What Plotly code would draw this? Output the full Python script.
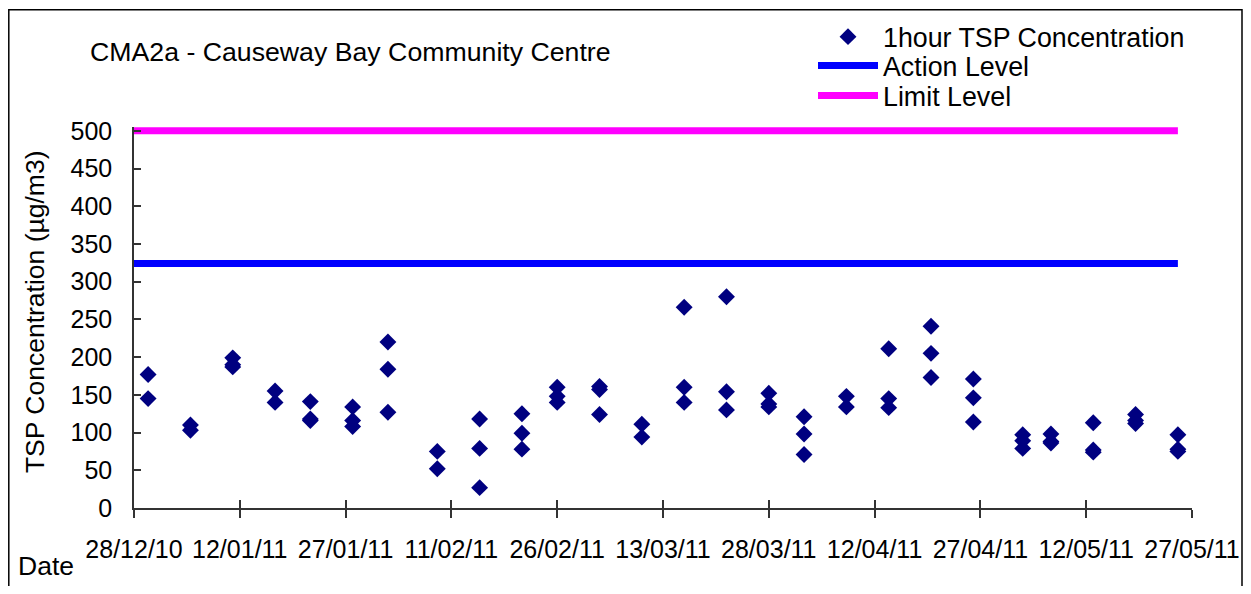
import plotly.graph_objects as go

# ---- data ----
sample_dates = (
    ["2010-12-30"] * 2 + ["2011-01-05"] * 2 + ["2011-01-11"] * 3 + ["2011-01-17"] * 2 +
    ["2011-01-22"] * 3 + ["2011-01-28"] * 3 + ["2011-02-02"] * 3 + ["2011-02-09"] * 2 +
    ["2011-02-15"] * 3 + ["2011-02-21"] * 3 + ["2011-02-26"] * 3 + ["2011-03-04"] * 3 +
    ["2011-03-10"] * 2 + ["2011-03-16"] * 3 + ["2011-03-22"] * 3 + ["2011-03-28"] * 3 +
    ["2011-04-02"] * 3 + ["2011-04-08"] * 2 + ["2011-04-14"] * 3 + ["2011-04-20"] * 3 +
    ["2011-04-26"] * 3 + ["2011-05-03"] * 3 + ["2011-05-07"] * 3 + ["2011-05-13"] * 3 +
    ["2011-05-19"] * 3 + ["2011-05-25"] * 3
)
tsp_values = [
    177, 145,
    110, 103,
    199, 190, 187,
    155, 140,
    141, 118, 116,
    134, 116, 108,
    220, 184, 127,
    75, 52,
    118, 79, 27,
    125, 99, 78,
    160, 148, 140,
    161, 157, 124,
    111, 94,
    266, 160, 140,
    280, 154, 130,
    152, 138, 134,
    121, 98, 71,
    148, 134,
    211, 145, 133,
    241, 205, 173,
    171, 146, 114,
    97, 89, 79,
    98, 88, 86,
    113, 77, 74,
    124, 116, 112,
    97, 78, 75,
]
level_dates = ["2010-12-28", "2011-05-25"]
action_level = [324, 324]
limit_level = [500, 500]

tick_dates = ["2010-12-28", "2011-01-12", "2011-01-27", "2011-02-11", "2011-02-26",
              "2011-03-13", "2011-03-28", "2011-04-12", "2011-04-27", "2011-05-12",
              "2011-05-27"]
tick_labels = ["28/12/10", "12/01/11", "27/01/11", "11/02/11", "26/02/11",
               "13/03/11", "28/03/11", "12/04/11", "27/04/11", "12/05/11",
               "27/05/11"]
y_ticks = [0, 50, 100, 150, 200, 250, 300, 350, 400, 450, 500]

FONT = "Liberation Sans, Arial, sans-serif"

# page offset (body margin) -> figure coordinates
OFF = 8
Y_TOP = 505  # small headroom so the 500 line is not clipped
PX_PER_UNIT = 378.0 / 500
W, H = 1251 - 2 * OFF, 594 - 2 * OFF
B = 508.3 - OFF
T = B - Y_TOP * PX_PER_UNIT
L, R = 134 - OFF, 1192 - OFF
pw, ph = R - L, B - T


def px(x):  # page x -> paper
    return (x - OFF - L) / pw


def py(y):  # page y -> paper
    return (B - (y - OFF)) / ph


fig = go.Figure()
fig.add_trace(go.Scatter(
    x=sample_dates, y=tsp_values, mode="markers", name="1hour TSP Concentration",
    marker=dict(symbol="diamond", size=13, color="#000080"), legend="legend",
))
fig.add_trace(go.Scatter(
    x=level_dates, y=action_level, mode="lines", name="Action Level",
    line=dict(color="#0000FF", width=7), xaxis="x2", legend="legend2",
))
fig.add_trace(go.Scatter(
    x=level_dates, y=limit_level, mode="lines", name="Limit Level",
    line=dict(color="#FF00FF", width=7), xaxis="x2", legend="legend3",
))

xrange_ = ["2010-12-28", "2011-05-27"]
LEG_FONT = dict(family=FONT, size=26.8, color="black")


def leg(top_y):
    return dict(x=px(813), y=py(top_y), xanchor="left", yanchor="top",
                font=LEG_FONT, bgcolor="rgba(0,0,0,0)", itemwidth=60)


fig.update_layout(
    width=W, height=H,
    margin=dict(l=L, r=W - R, t=T, b=H - B, pad=0, autoexpand=False),
    paper_bgcolor="white", plot_bgcolor="white",
    font=dict(family=FONT, size=25, color="black"),
    showlegend=True,
    title=dict(text="CMA2a - Causeway Bay Community Centre",
               x=(90 - OFF) / W, xanchor="left", y=1 - (52 - OFF) / H, yanchor="middle",
               font=dict(family=FONT, size=26.7, color="black")),
    legend=leg(12),
    legend2=leg(41),
    legend3=leg(71),
    xaxis=dict(
        type="date", range=xrange_, tickvals=tick_dates, ticktext=tick_labels,
        showgrid=False, zeroline=False, showline=True, linecolor="#333333",
        linewidth=1.5, ticks="outside", ticklen=8, tickwidth=1.5,
        tickcolor="#333333", ticklabelstandoff=10,
        tickfont=dict(family=FONT, size=25, color="black"),
    ),
    xaxis2=dict(
        type="date", range=xrange_, overlaying="x", matches="x", anchor="y",
        side="bottom", tickvals=tick_dates, showticklabels=False,
        showgrid=False, zeroline=False, showline=False,
        ticks="inside", ticklen=8, tickwidth=1.5, tickcolor="#333333",
    ),
    yaxis=dict(
        range=[0, Y_TOP], tickvals=y_ticks, showgrid=False, zeroline=False,
        showline=True, linecolor="#333333", linewidth=1.5,
        ticks="inside", ticklen=7, tickwidth=1.5, tickcolor="#333333",
        ticklabelstandoff=15,
        tickfont=dict(family=FONT, size=25, color="black"),
    ),
    annotations=[
        dict(text="Date", xref="paper", yref="paper", x=px(16), y=py(566),
             xanchor="left", yanchor="middle", showarrow=False,
             font=dict(family=FONT, size=26.5, color="black")),
        dict(text="TSP Concentration (µg/m3)", xref="paper", yref="paper",
             x=px(35), y=py(312), xanchor="center", yanchor="middle",
             textangle=-90, showarrow=False,
             font=dict(family=FONT, size=26.5, color="black")),
    ],
    shapes=[dict(
        type="rect", xref="paper", yref="paper",
        x0=px(8.8), x1=px(1242), y0=py(620), y1=py(9),
        line=dict(color="black", width=1.5), fillcolor="rgba(0,0,0,0)",
        layer="below",
    )],
)

fig.write_html("out.html")
